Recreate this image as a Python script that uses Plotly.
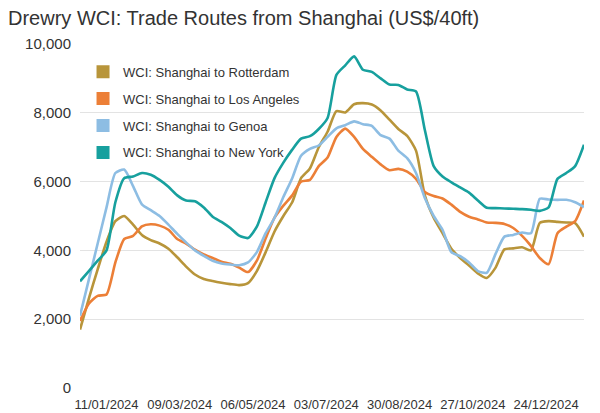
import plotly.graph_objects as go

dates = [
    "2023-12-21", "2023-12-28", "2024-01-04", "2024-01-11", "2024-01-18", "2024-01-25",
    "2024-02-01", "2024-02-08", "2024-02-15", "2024-02-22", "2024-02-29", "2024-03-07",
    "2024-03-14", "2024-03-21", "2024-03-28", "2024-04-04", "2024-04-11", "2024-04-18",
    "2024-04-25", "2024-05-02", "2024-05-09", "2024-05-16", "2024-05-23", "2024-05-30",
    "2024-06-06", "2024-06-13", "2024-06-20", "2024-06-27", "2024-07-04", "2024-07-11",
    "2024-07-18", "2024-07-25", "2024-08-01", "2024-08-08", "2024-08-15", "2024-08-22",
    "2024-08-29", "2024-09-05", "2024-09-12", "2024-09-19", "2024-09-26", "2024-10-03",
    "2024-10-10", "2024-10-17", "2024-10-24", "2024-10-31", "2024-11-07", "2024-11-14",
    "2024-11-21", "2024-11-28", "2024-12-05", "2024-12-12", "2024-12-19", "2024-12-26",
    "2025-01-02", "2025-01-09", "2025-01-16", "2025-01-23",
]

rotterdam = [
    1700, 2600, 3450, 4250, 4850, 5000, 4750, 4450, 4300, 4200, 4050, 3800,
    3530, 3300, 3170, 3110, 3060, 3020, 2990, 3050, 3400, 3950, 4550, 5000,
    5400, 6100, 6380, 7000, 7450, 8050, 8010, 8250, 8280, 8240, 8070, 7800,
    7530, 7330, 6900, 5600, 4950, 4500, 4050, 3780, 3560, 3330, 3200, 3500,
    4030, 4060, 4090, 4000, 4800, 4850, 4830, 4810, 4790, 4400,
]
los_angeles = [
    1950, 2450, 2680, 2720, 3650, 4330, 4420, 4700, 4760, 4720, 4600, 4330,
    4200, 4020, 3880, 3780, 3670, 3610, 3500, 3370, 3700, 4350, 4950, 5300,
    5600, 6000, 6050, 6450, 6700, 7300, 7540, 7300, 6950, 6720, 6500, 6330,
    6370, 6290, 6080, 5700, 5580, 5510, 5330, 5120, 4980, 4900, 4810, 4800,
    4770, 4650, 4420, 4130, 3780, 3600, 4500, 4690, 4850, 5450,
]
genoa = [
    2100, 3150, 4200, 5250, 6250, 6350, 5870, 5340, 5170, 5000, 4750, 4480,
    4230, 4000, 3840, 3700, 3620, 3590, 3570, 3650, 3950, 4500, 4950, 5550,
    6100, 6750, 6950, 7050, 7300, 7550, 7640, 7750, 7670, 7620, 7350, 7250,
    6900, 6680, 6250, 5520, 5000, 4600, 3950, 3830, 3650, 3400, 3350, 3900,
    4400, 4450, 4520, 4500, 5500, 5480, 5470, 5470, 5400, 5260,
]
new_york = [
    3100, 3400, 3700, 4000, 5400, 6100, 6150, 6250, 6200, 6050, 5850, 5600,
    5450, 5430, 5250, 4980, 4830, 4650, 4430, 4360, 4690, 5400, 6100, 6550,
    6930, 7250, 7320, 7530, 7850, 9100, 9380, 9640, 9250, 9190, 9000, 8820,
    8810, 8680, 8620, 7500, 6450, 6150, 5980, 5830, 5680, 5450, 5240, 5230,
    5220, 5210, 5200, 5180, 5150, 5250, 6080, 6250, 6450, 7070,
]

series_names = [
    "WCI: Shanghai to Rotterdam",
    "WCI: Shanghai to Los Angeles",
    "WCI: Shanghai to Genoa",
    "WCI: Shanghai to New York",
]
series_values = [rotterdam, los_angeles, genoa, new_york]
colors = ["#b8953a", "#ec7f37", "#8dbde3", "#17a09e"]

x_tick_dates = ["2024-01-11", "2024-03-09", "2024-05-06", "2024-07-03",
                "2024-08-30", "2024-10-27", "2024-12-24"]
y_ticks = [0, 2000, 4000, 6000, 8000, 10000]

FONT = "Liberation Sans, Arial, sans-serif"

fig = go.Figure()
for name, vals, col in zip(series_names, series_values, colors):
    fig.add_trace(go.Scatter(
        x=dates, y=vals, mode="lines", name=name, showlegend=False,
        line=dict(color=col, width=2.6, shape="spline", smoothing=0.6),
        hoverinfo="skip",
    ))
# legend entries with square swatches
for i, (name, col) in enumerate(zip(series_names, colors)):
    fig.add_trace(go.Scatter(
        x=[None], y=[None], mode="markers", name=name, legendgroup=f"g{i}",
        marker=dict(symbol="square", size=13, color=col),
    ))

# the page body has an 8px margin, so the figure is 8px smaller each way
fig.update_layout(
    width=592, height=405,
    paper_bgcolor="white", plot_bgcolor="white",
    margin=dict(l=72, r=16, t=36, b=25, pad=0),
    title=dict(
        text="Drewry WCI: Trade Routes from Shanghai (US$/40ft)",
        x=0, xanchor="left", y=1, yanchor="top", yref="container",
        pad=dict(t=3, l=0),
        font=dict(family=FONT, size=20, color="#333333"),
    ),
    font=dict(family=FONT, color="#333333"),
    legend=dict(
        x=0.006, y=0.963, xanchor="left", yanchor="top",
        bgcolor="rgba(0,0,0,0)", traceorder="grouped", tracegroupgap=7,
        font=dict(family=FONT, size=13, color="#333333"),
        itemsizing="trace",
    ),
    showlegend=True,
)
fig.update_xaxes(
    type="date", range=["2023-12-21", "2025-01-23"],
    tickvals=x_tick_dates, tickformat="%d/%m/%Y",
    showgrid=False, zeroline=False, showline=False, ticks="",
    ticklabelstandoff=7, automargin=False,
    tickfont=dict(family=FONT, size=13, color="#333333"),
)
fig.update_yaxes(
    range=[0, 10000], tickvals=y_ticks, tickformat=",d",
    showgrid=True, gridcolor="#e3e3e3", gridwidth=1,
    zeroline=False, showline=False, ticks="",
    ticklabelstandoff=8, automargin=False,
    tickfont=dict(family=FONT, size=15, color="#333333"),
)

fig.write_html("out.html")
